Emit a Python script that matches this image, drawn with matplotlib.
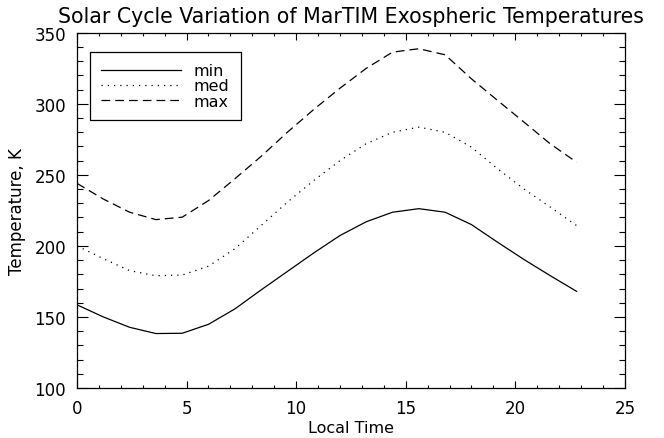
"""Solar cycle variation of MarTIM exospheric temperatures (IDL-style line plot)."""
import matplotlib
matplotlib.use("Agg")
import matplotlib.pyplot as plt
from matplotlib.ticker import MultipleLocator

# local time grid (hours) and exospheric temperature (K) per solar condition
local_time = [0.0, 1.2, 2.4, 3.6, 4.8, 6.0, 7.2, 8.4, 9.6, 10.8,
              12.0, 13.2, 14.4, 15.6, 16.8, 18.0, 19.2, 20.4, 21.6, 22.8]
t_min = [158.5, 150, 142.7, 138.3, 138.5, 144.8, 155.6, 169, 182, 195,
         207.3, 217, 223.7, 226.2, 223.7, 215, 202.5, 190.4, 179, 168]
t_med = [200, 191, 182.6, 179, 179.5, 185.7, 197.9, 214.3, 230.8, 246,
         260, 272, 280, 283.6, 280, 269.5, 254.2, 240, 227.3, 214.3]
t_max = [244, 233, 223.7, 218.5, 220.2, 231.9, 247.2, 263, 280, 296,
         311, 325, 336.4, 338.8, 334.5, 317.6, 302.3, 287.1, 271.8, 258.9]

plt.rcParams["font.family"] = ["DejaVu Sans"]

fig = plt.figure(figsize=(6.64, 4.39), dpi=100)
ax = fig.add_axes([0.116, 0.114, 0.825, 0.809])

ax.plot(local_time, t_min, color="black", lw=0.9, ls="-", label="min")
ax.plot(local_time, t_med, color="black", lw=0.9, ls=(0, (1, 4)), label="med")
ax.plot(local_time, t_max, color="black", lw=0.9, ls=(0, (7, 4)), label="max")

ax.set_xlim(0, 25)
ax.set_ylim(100, 350)
ax.xaxis.set_major_locator(MultipleLocator(5))
ax.xaxis.set_minor_locator(MultipleLocator(1))
ax.yaxis.set_major_locator(MultipleLocator(50))
ax.yaxis.set_minor_locator(MultipleLocator(10))
ax.tick_params(which="both", direction="in", top=True, right=True,
               labelsize=12, width=0.8, pad=8)
ax.tick_params(axis="x", which="major", length=5)
ax.tick_params(axis="x", which="minor", length=2.5)
ax.tick_params(axis="y", which="major", length=8)
ax.tick_params(axis="y", which="minor", length=4)
for sp in ax.spines.values():
    sp.set_linewidth(0.9)

ax.set_xlabel("Local Time", fontsize=11.5, labelpad=2)
ax.set_ylabel("Temperature, K", fontsize=12, labelpad=6)
ax.set_title("Solar Cycle Variation of MarTIM Exospheric Temperatures",
             fontsize=14.8, pad=8)

leg = ax.legend(loc="upper left", bbox_to_anchor=(0.024, 0.946),
                fontsize=11.5, handlelength=5.0, handletextpad=0.8,
                labelspacing=0.02, borderpad=0.7, borderaxespad=0,
                fancybox=False, framealpha=1, edgecolor="black")
leg.get_frame().set_linewidth(0.9)

fig.savefig("out.png", dpi=100)
